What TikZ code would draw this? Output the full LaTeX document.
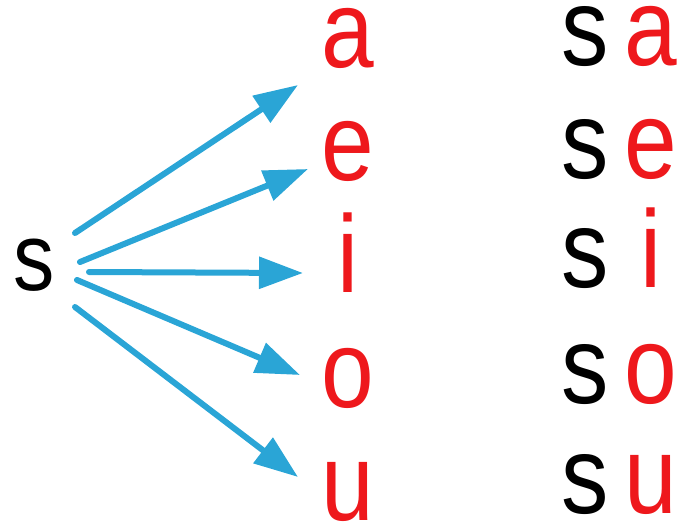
\documentclass[tikz,border=0pt]{standalone}
\usepackage{fontspec}
\setmainfont{Liberation Sans}
\newfontfamily\letterfont[FakeStretch=0.86]{Liberation Sans}
\usetikzlibrary{arrows.meta}
\definecolor{vowelred}{RGB}{238,24,28}
\definecolor{arrowblue}{RGB}{42,165,214}

\begin{document}
\begin{tikzpicture}[x=1pt,y=-1pt,
    letter/.style={inner sep=0pt,anchor=base,text height=60pt,text depth=0pt,
      font=\letterfont\fontsize{110}{110}\selectfont},
    vowel/.style={letter,text=vowelred},
    link/.style={arrowblue,line width=6pt,line cap=round,-{Triangle[length=44pt,width=31pt]}}]
    % page
    \useasboundingbox (0,0) rectangle (686,522);

    % the consonant
    \node[letter,font=\letterfont\fontsize{96}{96}\selectfont] (s) at (34,290) {s};

    % vowels and syllables
    \foreach \v/\y/\w in {a/67/65,e/180/178,i/292/287,o/407/403,u/520/513} {
      \node[vowel] (\v) at (348,\y) {\v};
      \node[letter] (s\v) at (585,\w) {s};
      \node[vowel] (s\v v) at (651,\w) {\v};
    }

    % arrows from s to the vowels
    \foreach \v/\x/\y/\p/\q in {a/75/233/298/85,e/80/262/308/169,i/89/272/303/273,o/77/280/300/375,u/75/307/298/477} {
      \coordinate (out\v) at (\x,\y);
      \coordinate (in\v) at (\p,\q);
      \draw[link] (out\v) -- (in\v);
    }
\end{tikzpicture}
\end{document}
